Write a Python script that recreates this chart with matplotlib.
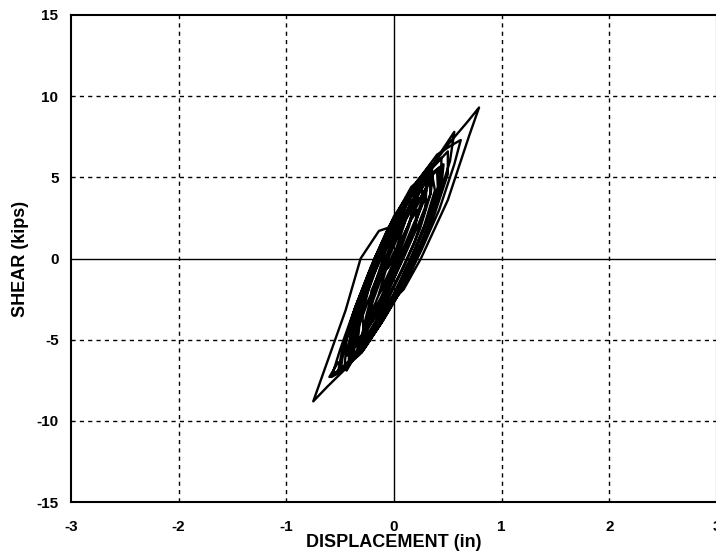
import numpy as np
import matplotlib
matplotlib.use("Agg")
from matplotlib import pyplot as plt

# displacement (in) and shear (kips), in load order
disp = [
    0.00, 0.07, 0.16, 0.22, 0.20, 0.08, -0.06, -0.20, -0.21, -0.08, 0.07,
    0.20, 0.30, 0.29, 0.19, 0.05, -0.11, -0.28, -0.30, -0.19, -0.05, 0.12,
    0.29, 0.40, 0.41, 0.29, 0.17, 0.03, -0.15, -0.32, -0.38, -0.37, -0.28, -0.16, -0.02, 0.17,
    0.34, 0.46, 0.44, 0.33, 0.19, 0.05, -0.13, -0.30, -0.46, -0.44, -0.32, -0.18, -0.04, 0.16, 0.30,
    0.42, 0.56, 0.52, 0.40, 0.22, 0.06, -0.12, -0.32, -0.50, -0.58, -0.50, -0.36, -0.18, 0.00, 0.20, 0.40,
    0.54, 0.62, 0.56, 0.42, 0.26, 0.10, -0.10, -0.30, -0.46, -0.60, -0.52, -0.44, -0.38, -0.34, -0.22,
    -0.10, 0.06, 0.20, 0.34,
    0.50, 0.68, 0.79, 0.70, 0.50, 0.25, 0.09, 0.00, -0.20, -0.42, -0.62, -0.75,
    -0.60, -0.45, -0.31, -0.14, -0.05, 0.08, 0.22, 0.34,
    0.38, 0.28, 0.14, 0.00, -0.18, -0.36, -0.50, -0.46, -0.36, -0.22, -0.06, 0.12, 0.28, 0.44,
    0.44, 0.34, 0.20, 0.04, -0.14, -0.30, -0.40, -0.38, -0.28, -0.14, 0.02, 0.18, 0.32,
    0.34, 0.24, 0.10, -0.06, -0.22, -0.34, -0.32, -0.24, -0.12, 0.02, 0.16, 0.26,
    0.26, 0.16, 0.04, -0.10, -0.24, -0.22, -0.12, -0.02, 0.12, 0.18,
    0.14, 0.04, -0.08, -0.14, -0.08, 0.00, 0.04,
    0.18, 0.30, 0.36, 0.34, 0.22, 0.10, -0.04, -0.18, -0.30, -0.34, -0.34, -0.24, -0.12, 0.00, 0.12, 0.24,
    0.34, 0.42, 0.42, 0.32, 0.20, 0.06, -0.08, -0.24, -0.42, -0.40, -0.30, -0.18, -0.06, 0.08, 0.22,
    0.32, 0.28, 0.16, 0.02, -0.12, -0.26, -0.24, -0.14, -0.04, 0.08, 0.20,
    0.36, 0.50, 0.50, 0.38, 0.24, 0.08, -0.10, -0.28, -0.44, -0.52, -0.48, -0.38, -0.24, -0.10, 0.06, 0.22,
    0.34, 0.30, 0.20, 0.06, -0.08, -0.22, -0.36, -0.44, -0.40, -0.30, -0.20, -0.08, 0.06, 0.16,
    0.26, 0.22, 0.12, 0.00, -0.14, -0.26, -0.30, -0.26, -0.18, -0.08, 0.04, 0.12, 0.16, 0.10, 0.00,
    -0.06, 0.00,
]
shear = [
    0.0, 1.2, 2.4, 3.0, 2.0, 0.0, -2.0, -3.2, -2.0, 0.0, 2.0,
    3.4, 4.2, 3.0, 1.0, -1.0, -3.0, -4.6, -3.0, -1.0, 1.0, 3.0,
    5.0, 5.4, 4.0, 2.0, 0.0, -2.0, -4.0, -5.5, -6.0, -4.0, -2.0, 0.0, 2.0, 4.0,
    5.2, 5.8, 4.4, 2.0, 0.0, -2.0, -4.0, -5.6, -6.8, -5.0, -2.5, 0.0, 2.0, 4.0, 5.0,
    6.4, 7.8, 6.0, 3.4, 0.4, -2.0, -4.0, -5.8, -7.0, -7.3, -5.6, -3.0, 0.0, 2.6, 4.6, 6.4,
    7.0, 7.3, 5.8, 3.0, 0.6, -1.6, -3.6, -5.4, -6.6, -7.3, -6.4, -6.9, -6.2, -4.0, -1.5,
    0.6, 2.8, 4.4, 5.6,
    7.0, 8.4, 9.3, 7.6, 3.6, 0.0, -1.9, -2.5, -4.6, -6.6, -7.9, -8.8,
    -6.0, -3.2, 0.0, 1.7, 1.9, 3.4, 4.8, 5.7,
    4.2, 2.0, -0.2, -2.2, -4.2, -6.0, -7.0, -5.4, -3.0, -0.6, 1.8, 3.8, 5.2, 6.2,
    4.8, 2.4, 0.0, -2.2, -4.2, -5.8, -6.4, -4.8, -2.4, 0.0, 2.4, 4.2, 5.2,
    4.0, 1.8, -0.4, -2.6, -4.4, -5.4, -4.0, -2.0, 0.2, 2.2, 3.8, 4.6,
    3.4, 1.4, -0.6, -2.6, -4.0, -2.8, -0.8, 1.0, 2.8, 3.2,
    2.0, 0.2, -1.6, -2.2, -0.8, 0.4, 0.6,
    2.8, 4.4, 5.0, 4.0, 2.0, 0.2, -1.8, -3.6, -5.0, -5.6, -4.4, -2.6, -0.8, 1.0, 2.8, 4.2,
    5.0, 5.6, 4.6, 2.6, 0.6, -1.4, -3.2, -5.0, -6.2, -4.8, -2.8, -0.8, 1.2, 3.0, 4.6,
    4.8, 3.6, 1.6, -0.6, -2.6, -4.4, -3.4, -1.6, 0.2, 2.0, 3.6,
    5.6, 6.6, 5.2, 2.8, 0.4, -1.8, -3.8, -5.6, -6.6, -7.0, -5.6, -3.4, -1.0, 1.0, 3.0, 4.8,
    5.8, 4.4, 2.4, 0.2, -1.8, -3.8, -5.4, -6.0, -4.6, -2.6, -0.6, 1.4, 3.2, 4.4,
    5.0, 3.8, 1.8, -0.2, -2.2, -4.2, -4.8, -3.6, -1.6, 0.4, 2.2, 3.4, 3.6, 2.2, 0.2,
    -0.6, 0.0,
]

x_ticks = [-3, -2, -1, 0, 1, 2, 3]
y_ticks = [-15, -10, -5, 0, 5, 10, 15]

FONT = ['Liberation Sans', 'DejaVu Sans']


def main():
    fig = plt.figure(figsize=(7.16, 5.59), dpi=100)
    ax = fig.add_axes([71 / 716, 1 - 502 / 559, 646 / 716, 487 / 559])

    ax.plot(disp, shear, color='black', lw=1.7)

    ax.set_xlim(-3, 3)
    ax.set_ylim(-15, 15)
    ax.set_xticks(x_ticks)
    ax.set_yticks(y_ticks)
    ax.set_xticklabels([str(t) for t in x_ticks], fontweight='bold', fontsize=11, family=FONT)
    ax.set_yticklabels([str(t) for t in y_ticks], fontweight='bold', fontsize=11, family=FONT)
    ax.tick_params(axis='x', length=0, pad=13)
    ax.tick_params(axis='y', length=0, pad=9)

    for t in x_ticks[1:-1]:
        if t == 0:
            ax.axvline(t, color='black', lw=1.0)
        else:
            ax.axvline(t, color='black', lw=1.0, ls=(0, (3, 3)))
    for t in y_ticks[1:-1]:
        if t == 0:
            ax.axhline(t, color='black', lw=1.0)
        else:
            ax.axhline(t, color='black', lw=1.0, ls=(0, (3, 3)))

    for s in ax.spines.values():
        s.set_linewidth(1.5)

    ax.set_xlabel('DISPLACEMENT (in)', fontweight='bold', fontsize=13, family=FONT, labelpad=0)
    ax.set_ylabel('SHEAR (kips)', fontweight='bold', fontsize=13, family=FONT, labelpad=5)

    fig.savefig('out.png', dpi=100)


if __name__ == '__main__':
    main()
